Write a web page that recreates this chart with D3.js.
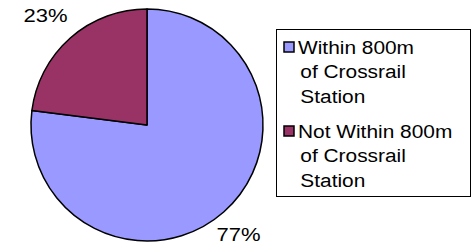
<!DOCTYPE html>
<html>
<head>
<meta charset="utf-8">
<script src="https://cdn.jsdelivr.net/npm/d3@7"></script>
<style>
  body { margin: 0; background: #fff; }
  text { font-family: "Liberation Sans", Arial, sans-serif; fill: #000; }
</style>
</head>
<body>
<div id="chart"></div>
<script>
// data
let categories = ["Within 800m of Crossrail Station", "Not Within 800m of Crossrail Station"];
let legendLines = [["Within 800m", "of Crossrail", "Station"], ["Not Within 800m", "of Crossrail", "Station"]];
let values = [77, 23];
let colors = ["#9999FF", "#993366"];

let width = 472, height = 244;
let center = { x: 147, y: 125 };
let radius = 116;
let stretch = 1.16; // text in the source image is a bit wide

let svg = d3.select("#chart")
    .append("svg")
    .attr("width", width)
    .attr("height", height);

let pie = d3.pie().sort(null).value(d => d);
let arc = d3.arc().innerRadius(0).outerRadius(radius);
let labelArc = d3.arc().innerRadius(radius + 30).outerRadius(radius + 30);

let slices = pie(values);

let g = svg.append("g")
    .attr("transform", "translate(" + center.x + "," + center.y + ")");

g.selectAll("path")
    .data(slices)
    .enter().append("path")
    .attr("d", arc)
    .attr("fill", (d, i) => colors[i])
    .attr("stroke", "#000")
    .attr("stroke-width", 1.5)
    .attr("stroke-linejoin", "round");

// percentage labels outside the pie
g.selectAll("text.pct")
    .data(slices)
    .enter().append("text")
    .attr("class", "pct")
    .attr("transform", d => {
        let c = labelArc.centroid(d);
        return "translate(" + (c[0] - 5) + "," + c[1] + ") scale(" + stretch + ",1)";
    })
    .attr("text-anchor", "middle")
    .attr("dy", "0.36em")
    .style("font-size", "19px")
    .text(d => d.data + "%");

/*---------------
 // legend
 ----------------*/
let legend = svg.append("g").attr("transform", "translate(276.5,29.5)");

legend.append("rect")
    .attr("width", 194)
    .attr("height", 167)
    .attr("fill", "#fff")
    .attr("stroke", "#000")
    .attr("stroke-width", 1);

let itemY = d3.scaleLinear().domain([0, 1]).range([24.5, 108.5]);

categories.forEach((c, i) => {
    let item = legend.append("g")
        .attr("transform", "translate(0," + itemY(i) + ")");
    item.append("rect")
        .attr("x", 7.5)
        .attr("y", -12)
        .attr("width", 10)
        .attr("height", 10)
        .attr("fill", colors[i])
        .attr("stroke", "#000")
        .attr("stroke-width", 1.5);
    let t = item.append("text")
        .attr("transform", "translate(21.5,0) scale(" + stretch + ",1)")
        .style("font-size", "18px");
    legendLines[i].forEach((line, li) => {
        t.append("tspan")
            .attr("x", li == 0 ? 0 : 2)
            .attr("dy", li == 0 ? 0 : 24.5)
            .text(line);
    });
});
</script>
</body>
</html>
